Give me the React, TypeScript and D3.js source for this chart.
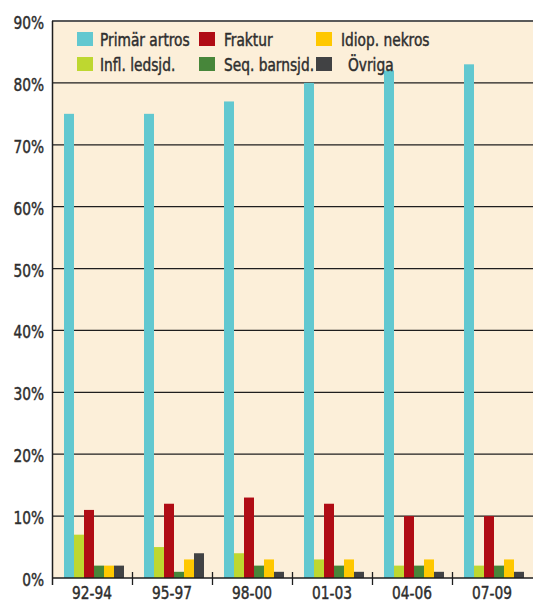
import React, { useEffect, useRef } from 'react';
import * as d3 from 'd3';

const periods = ['92-94', '95-97', '98-00', '01-03', '04-06', '07-09'];
const seriesNames = ['Primär artros', 'Infl. ledsjd.', 'Fraktur', 'Seq. barnsjd.', 'Idiop. nekros', 'Övriga'];
const seriesColors = ['#62c8d0', '#bed730', '#b00c15', '#47863a', '#ffc800', '#414244'];

const primarArtros = [75, 75, 77, 80, 82, 83];
const inflLedsjd = [7, 5, 4, 3, 2, 2];
const fraktur = [11, 12, 13, 12, 10, 10];
const seqBarnsjd = [2, 1, 2, 2, 2, 2];
const idiopNekros = [2, 3, 3, 3, 3, 3];
const ovriga = [2, 4, 1, 1, 1, 1];

const seriesValues = [primarArtros, inflLedsjd, fraktur, seqBarnsjd, idiopNekros, ovriga];
const yTicks = [0, 10, 20, 30, 40, 50, 60, 70, 80, 90];

// legend order as drawn: rows of three
const legendOrder = ['Primär artros', 'Fraktur', 'Idiop. nekros', 'Infl. ledsjd.', 'Seq. barnsjd.', 'Övriga'];

const FONT = '"DejaVu Sans Condensed", "Liberation Sans Narrow", sans-serif';
const SQUEEZE = 0.85; // the original face is a narrow one

const App = () => {
  const svgRef = useRef(null);

  useEffect(() => {
    const width = 533;
    const height = 604;
    const left = 52;
    const right = 533;
    const top = 21;
    const bottom = 578;

    const svg = d3.select(svgRef.current);
    svg.selectAll('*').remove();
    svg.attr('width', width).attr('height', height);

    const x = d3.scaleBand().domain(periods).range([left, left + 80 * periods.length]);
    const inner = d3.scaleBand().domain(seriesNames).range([12, 72]);
    const y = d3.scaleLinear().domain([0, 90]).range([bottom, top]);

    const label = (g, tx, ty, str, anchor = 'start') => {
      g.append('text')
        .attr('transform', `translate(${tx},${ty}) scale(${SQUEEZE},1)`)
        .attr('text-anchor', anchor)
        .attr('font-family', FONT)
        .attr('font-size', 18)
        .attr('fill', '#2e2e2e')
        .attr('stroke', '#2e2e2e')
        .attr('stroke-width', 0.45)
        .text(str);
    };

    // background
    svg.append('rect')
      .attr('x', left)
      .attr('y', top)
      .attr('width', right - left)
      .attr('height', bottom - top)
      .attr('fill', '#fcefd9');

    // gridlines
    svg.append('g')
      .selectAll('line')
      .data(yTicks.slice(1, -1))
      .join('line')
      .attr('x1', left)
      .attr('x2', right)
      .attr('y1', d => y(d))
      .attr('y2', d => y(d))
      .attr('stroke', '#1e1e1e')
      .attr('stroke-width', 1.3);

    // top border
    svg.append('line')
      .attr('x1', left)
      .attr('x2', right)
      .attr('y1', top)
      .attr('y2', top)
      .attr('stroke', '#5a5a5a')
      .attr('stroke-width', 2);

    // bars
    seriesValues.forEach((vals, si) => {
      svg.append('g')
        .selectAll('rect')
        .data(vals)
        .join('rect')
        .attr('x', (d, i) => x(periods[i]) + inner(seriesNames[si]))
        .attr('y', d => y(d))
        .attr('width', inner.bandwidth())
        .attr('height', d => y(0) - y(d))
        .attr('fill', seriesColors[si]);
    });

    // baseline and left axis
    svg.append('line')
      .attr('x1', left)
      .attr('x2', right)
      .attr('y1', bottom)
      .attr('y2', bottom)
      .attr('stroke', '#1e1e1e')
      .attr('stroke-width', 1.5);

    svg.append('line')
      .attr('x1', left + 0.5)
      .attr('x2', left + 0.5)
      .attr('y1', top)
      .attr('y2', bottom + 7)
      .attr('stroke', '#1e1e1e')
      .attr('stroke-width', 1.5);

    // category separator ticks
    svg.append('g')
      .selectAll('line')
      .data(periods.slice(1))
      .join('line')
      .attr('x1', d => x(d) + 0.5)
      .attr('x2', d => x(d) + 0.5)
      .attr('y1', bottom - 6)
      .attr('y2', bottom + 7)
      .attr('stroke', '#1e1e1e')
      .attr('stroke-width', 1.3);

    // y labels
    const yg = svg.append('g');
    yTicks.forEach(d => label(yg, 44, y(d) + 8, `${d}%`, 'end'));

    // x labels
    const xg = svg.append('g');
    periods.forEach(p => label(xg, x(p) + x.bandwidth() / 2, 599, p, 'middle'));

    // legend
    const colX = [77, 199, 316];
    const textX = [100, 224, 341];
    const rowY = [32, 57];
    const legend = svg.append('g');
    legendOrder.forEach((name, i) => {
      const c = i % 3;
      const r = Math.floor(i / 3);
      legend.append('rect')
        .attr('x', colX[c])
        .attr('y', rowY[r])
        .attr('width', 16)
        .attr('height', 14)
        .attr('fill', seriesColors[seriesNames.indexOf(name)]);
      label(legend, name === 'Övriga' ? textX[c] + 7 : textX[c], rowY[r] + 14, name);
    });
  }, []);

  return (
    <div style={{ position: 'absolute', left: 0, top: 0 }}>
      <svg ref={svgRef} style={{ display: 'block' }}></svg>
    </div>
  );
};

export default App;
